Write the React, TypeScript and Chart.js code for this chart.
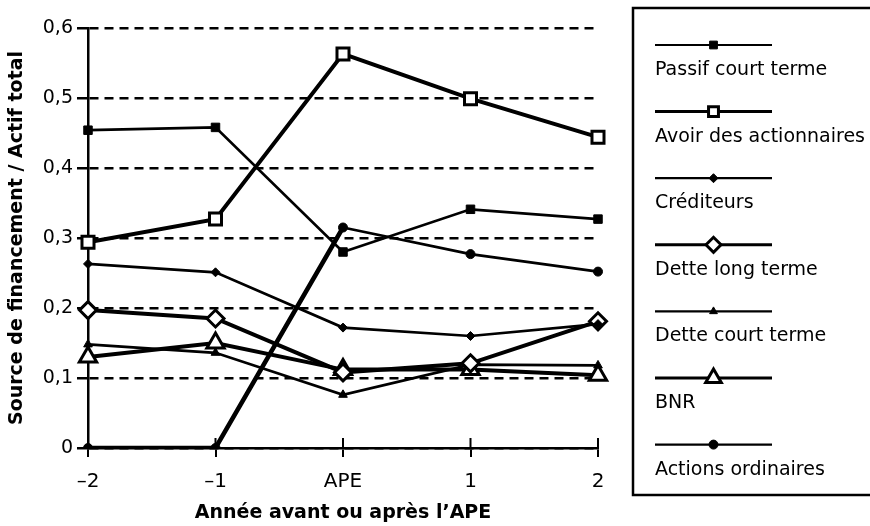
import React, { useEffect, useRef } from 'react';
import { Chart, registerables } from 'chart.js';
import { drawPoint } from 'chart.js/helpers';

Chart.register(...registerables);

const categories = ['–2', '–1', 'APE', '1', '2'];

const passifCourtTerme = [0.454, 0.458, 0.28, 0.341, 0.327];
const avoirActionnaires = [0.294, 0.327, 0.563, 0.499, 0.444];
const crediteurs = [0.263, 0.251, 0.172, 0.16, 0.177];
const detteLongTerme = [0.197, 0.185, 0.108, 0.121, 0.181];
const detteCourtTerme = [0.148, 0.136, 0.076, 0.119, 0.118];
const bnr = [0.13, 0.15, 0.112, 0.112, 0.104];
const actionsOrdinaires = [0, 0, 0.315, 0.277, 0.252];

const seriesLabels = [
  'Passif court terme',
  'Avoir des actionnaires',
  'Créditeurs',
  'Dette long terme',
  'Dette court terme',
  'BNR',
  'Actions ordinaires',
];

const yMin = 0;
const yMax = 0.6;
const yStep = 0.1;

const xTitle = 'Année avant ou après l’APE';
const yTitle = 'Source de financement / Actif total';

const FONT = "'DejaVu Sans', sans-serif";

const tickCrossPlugin = {
  id: 'tickCross',
  afterDatasetsDraw(chart: any) {
    const xs = chart.scales.x;
    const ctx = chart.ctx;
    const y0 = chart.chartArea.bottom;
    ctx.save();
    ctx.strokeStyle = '#000';
    ctx.lineWidth = 2;
    xs.ticks.forEach((_t: any, i: number) => {
      const x = xs.getPixelForTick(i);
      ctx.beginPath();
      ctx.moveTo(x, y0 - 10);
      ctx.lineTo(x, y0);
      ctx.stroke();
    });
    ctx.restore();
  },
};

const boxLegendPlugin = {
  id: 'boxLegend',
  afterDraw(chart: any) {
    const ctx = chart.ctx;
    const left = 633;
    const top = 8;
    const bottom = 495;
    ctx.save();
    ctx.strokeStyle = '#000';
    ctx.lineWidth = 2.5;
    ctx.strokeRect(left, top, 260, bottom - top);
    chart.data.datasets.forEach((ds: any, i: number) => {
      const sy = 45 + i * 66.6;
      const x0 = 655;
      const x1 = 772;
      ctx.strokeStyle = '#000';
      ctx.lineWidth = ds.legendLineWidth;
      ctx.beginPath();
      ctx.moveTo(x0, sy);
      ctx.lineTo(x1, sy);
      ctx.stroke();
      ctx.fillStyle = ds.pointBackgroundColor;
      ctx.strokeStyle = '#000';
      ctx.lineWidth = ds.pointBorderWidth;
      drawPoint(
        ctx,
        {
          pointStyle: ds.pointStyle,
          radius: ds.legendRadius,
          rotation: 0,
          borderWidth: ds.pointBorderWidth,
        } as any,
        (x0 + x1) / 2,
        sy
      );
      ctx.fillStyle = '#000';
      ctx.font = `19px ${FONT}`;
      ctx.textAlign = 'left';
      ctx.textBaseline = 'middle';
      ctx.fillText(ds.label, x0, sy + 25);
    });
    ctx.restore();
  },
};

function makeDataset(
  label: string,
  data: number[],
  style: string,
  radius: number,
  open: boolean,
  lineWidth: number,
  legendRadius: number,
  legendLineWidth: number
) {
  return {
    label,
    data,
    borderColor: '#000',
    backgroundColor: open ? '#fff' : '#000',
    borderWidth: lineWidth,
    pointStyle: style,
    pointRadius: radius,
    pointHoverRadius: radius,
    pointBackgroundColor: open ? '#fff' : '#000',
    pointBorderColor: '#000',
    pointBorderWidth: open ? 3 : 1,
    tension: 0,
    fill: false,
    legendRadius,
    legendLineWidth,
  };
}

export default function App() {
  const canvasRef = useRef<HTMLCanvasElement | null>(null);

  useEffect(() => {
    if (!canvasRef.current) return;
    const actions: any = makeDataset(seriesLabels[6], actionsOrdinaires, 'circle', 4.5, false, 2.7, 4.5, 2.2);
    actions.segment = {
      borderWidth: (c: any) => (c.p0DataIndex < 2 ? 4.5 : 2.7),
    };
    const chart = new Chart(canvasRef.current, {
      type: 'line',
      data: {
        labels: categories,
        datasets: [
          makeDataset(seriesLabels[0], passifCourtTerme, 'rect', 6, false, 2.7, 5.5, 2.2),
          makeDataset(seriesLabels[1], avoirActionnaires, 'rect', 8.5, true, 4, 7, 3),
          makeDataset(seriesLabels[2], crediteurs, 'rectRot', 4.5, false, 2.7, 4.5, 2.2),
          makeDataset(seriesLabels[3], detteLongTerme, 'rectRot', 8.5, true, 4, 7.5, 3),
          makeDataset(seriesLabels[4], detteCourtTerme, 'triangle', 5, false, 2.7, 4.5, 2.2),
          makeDataset(seriesLabels[5], bnr, 'triangle', 10, true, 4, 9, 3),
          actions,
        ] as any,
      },
      options: {
        animation: false,
        responsive: false,
        devicePixelRatio: 1,
        events: [],
        layout: { padding: { left: 0, top: 28, right: 272, bottom: 0 } },
        plugins: {
          legend: { display: false },
          tooltip: { enabled: false },
          title: { display: false },
        },
        scales: {
          x: {
            type: 'category',
            offset: false,
            border: { display: true, color: '#000', width: 2.5 },
            grid: {
              display: true,
              drawOnChartArea: false,
              drawTicks: true,
              tickLength: 9,
              color: '#000',
              lineWidth: 2,
            },
            ticks: {
              color: '#000',
              font: { family: FONT, size: 20 },
              padding: 13,
              maxRotation: 0,
              autoSkip: false,
            },
            title: {
              display: true,
              text: xTitle,
              color: '#000',
              font: { family: FONT, size: 19, weight: 'bold' },
              padding: { top: 0, bottom: 2 },
            },
            afterFit: (s: any) => {
              s.height = 78;
            },
          },
          y: {
            type: 'linear',
            min: yMin,
            max: yMax,
            border: { display: true, color: '#000', width: 2.5, dash: [9, 6] },
            grid: {
              color: '#000',
              lineWidth: 2.5,
              tickBorderDash: [],
              tickLength: 11,
              drawTicks: true,
            },
            ticks: {
              stepSize: yStep,
              color: '#000',
              font: { family: FONT, size: 19 },
              padding: 4,
              callback: (v: any) => (Number(v) === 0 ? '0' : Number(v).toFixed(1).replace('.', ',')),
            },
            title: {
              display: true,
              text: yTitle,
              color: '#000',
              font: { family: FONT, size: 19, weight: 'bold' },
              padding: { top: 6, bottom: 0 },
            },
            afterFit: (s: any) => {
              s.width = 88;
            },
          },
        },
      } as any,
      plugins: [tickCrossPlugin, boxLegendPlugin],
    });
    return () => chart.destroy();
  }, []);

  return (
    <div style={{ position: 'fixed', left: 0, top: 0, width: 870, height: 526, background: '#fff' }}>
      <canvas ref={canvasRef} width={870} height={526} style={{ display: 'block' }} />
    </div>
  );
}
